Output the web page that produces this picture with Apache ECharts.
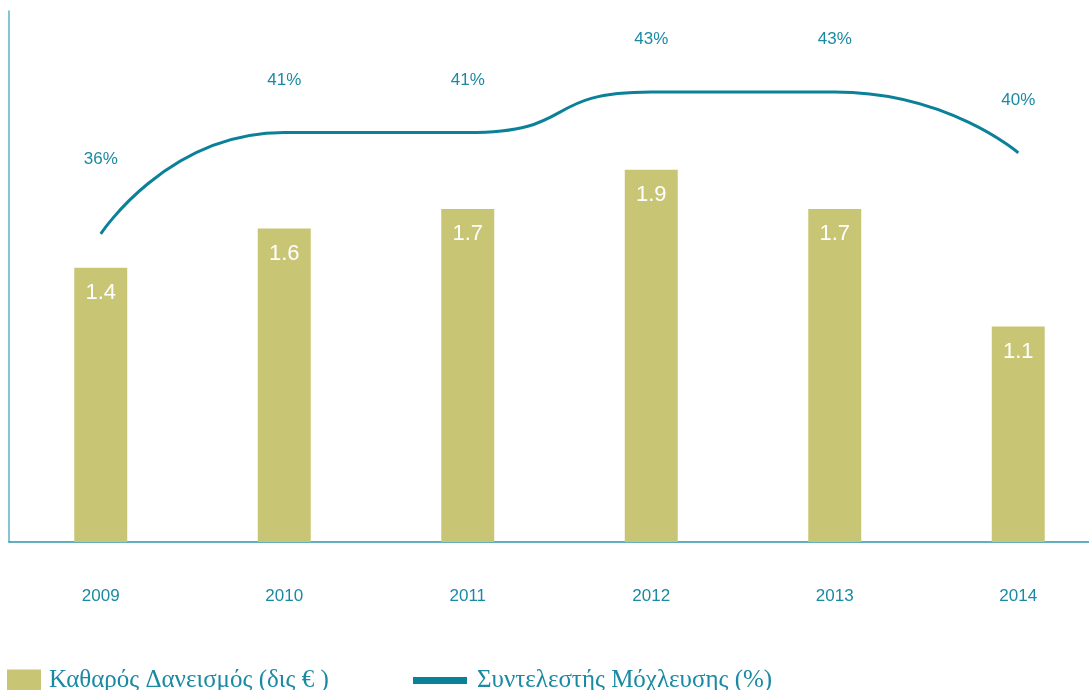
<!DOCTYPE html>
<html>
<head>
<meta charset="utf-8">
<script src="https://cdn.jsdelivr.net/npm/echarts@6/dist/echarts.min.js"></script>
<style>
  html, body { margin: 0; padding: 0; background: #fff; overflow: hidden; }
  #chart { width: 1110px; height: 690px; }
</style>
</head>
<body>
<div id="chart"></div>
<script>
  // data
  var years = ['2009', '2010', '2011', '2012', '2013', '2014'];
  var lending = [1.4, 1.6, 1.7, 1.9, 1.7, 1.1];
  var leverage = [36, 41, 41, 43, 43, 40];

  var barName = 'Καθαρός Δανεισμός (δις € )';
  var lineName = 'Συντελεστής Μόχλευσης (%)';

  var teal = '#1a8aa2';
  var lineColor = '#0b8199';
  var barColor = '#c8c675';

  var myChart = echarts.init(document.getElementById('chart'));

  var option = {
    animation: false,
    grid: {
      left: 9,
      right: 0,
      top: 11,
      bottom: 148
    },
    legend: [
      {
        left: 7,
        top: 668,
        padding: 0,
        itemWidth: 34,
        itemHeight: 22,
        icon: 'rect',
        data: [barName],
        textStyle: { fontFamily: 'Liberation Serif', fontSize: 25, color: teal, padding: [0, 0, 0, 3] }
      },
      {
        left: 413,
        top: 668,
        padding: 0,
        itemWidth: 54,
        itemHeight: 7,
        icon: 'rect',
        data: [lineName],
        textStyle: { fontFamily: 'Liberation Serif', fontSize: 25, color: teal, padding: [0, 0, 0, 5] }
      }
    ],
    xAxis: {
      type: 'category',
      data: years,
      boundaryGap: true,
      axisLine: { show: true, lineStyle: { color: '#2d97ab', width: 1.5 } },
      axisTick: { show: false },
      axisLabel: {
        margin: 46,
        color: teal,
        fontSize: 17,
        fontFamily: 'Liberation Sans'
      }
    },
    yAxis: [
      {
        type: 'value',
        min: 0,
        max: 2.71,
        axisLine: { show: true, lineStyle: { color: '#5ab4c4', width: 1.5 } },
        axisTick: { show: false },
        axisLabel: { show: false },
        splitLine: { show: false }
      },
      {
        type: 'value',
        min: 20.8,
        max: 47,
        show: false,
        splitLine: { show: false }
      }
    ],
    series: [
      {
        name: barName,
        type: 'bar',
        data: lending,
        barWidth: 53,
        itemStyle: { color: barColor },
        label: {
          show: true,
          position: 'insideTop',
          distance: 14,
          color: '#fff',
          fontSize: 22,
          fontFamily: 'Liberation Sans'
        }
      },
      {
        name: lineName,
        type: 'line',
        yAxisIndex: 1,
        smooth: 0.6,
        symbol: 'circle',
        symbolSize: 0,
        data: leverage.map(function (v, i) {
          return i === 0 ? { value: v, label: { distance: 66 } } : v;
        }),
        lineStyle: { color: lineColor, width: 3 },
        itemStyle: { color: lineColor },
        label: {
          show: true,
          position: 'top',
          distance: 44,
          color: teal,
          fontSize: 17,
          fontFamily: 'Liberation Sans',
          formatter: '{c}%'
        }
      }
    ]
  };

  myChart.setOption(option);
</script>
</body>
</html>
